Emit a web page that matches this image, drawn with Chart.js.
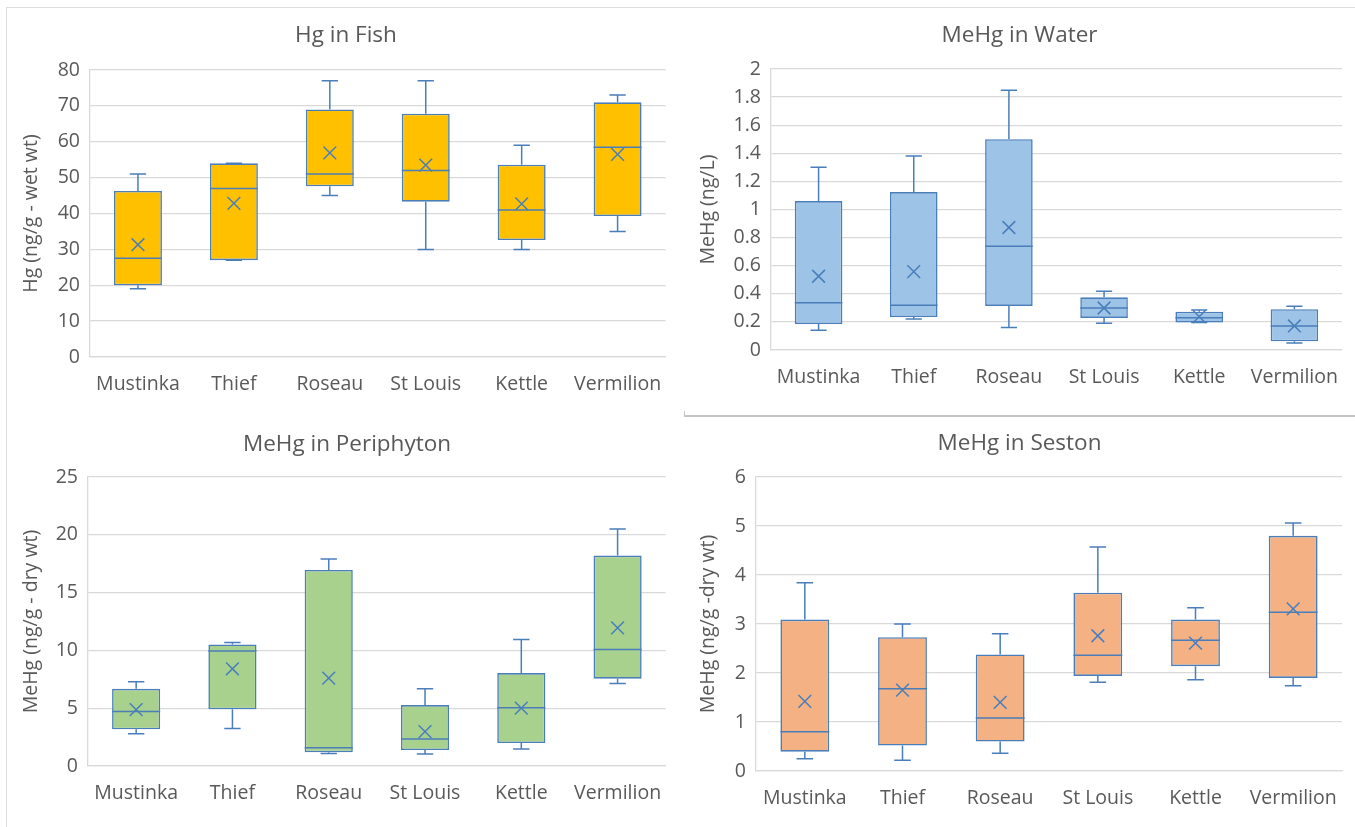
<!DOCTYPE html>
<html>
<head>
<meta charset="utf-8">
<script src="https://cdn.jsdelivr.net/npm/chart.js@4.4.1/dist/chart.umd.min.js"></script>
<style>
  html, body { margin: 0; padding: 0; background: #ffffff; }
  body { width: 1355px; height: 827px; position: relative; overflow: hidden; }
  canvas { position: absolute; }
  .rule { position: absolute; }
</style>
</head>
<body>
<div class="rule" style="left:6px;top:7px;width:1349px;height:1px;background:#dcdcdc"></div>
<div class="rule" style="left:6px;top:7px;width:1px;height:820px;background:#dcdcdc"></div>
<div class="rule" style="left:684px;top:415px;width:671px;height:2px;background:#c4c4c4"></div>
<div class="rule" style="left:684px;top:411px;width:1px;height:5px;background:#c4c4c4"></div>

<canvas id="fish" width="672" height="403" style="left:6px;top:7px"></canvas>
<canvas id="water" width="671" height="406" style="left:684px;top:7px"></canvas>
<canvas id="peri" width="672" height="414" style="left:6px;top:413px"></canvas>
<canvas id="seston" width="671" height="409" style="left:684px;top:418px"></canvas>

<script>
// Sampling sites
const sites = ['Mustinka', 'Thief', 'Roseau', 'St Louis', 'Kettle', 'Vermilion'];

// Hg in fish (ng/g wet wt)
const fishMin    = [19, 27, 45, 30, 30, 35];
const fishQ1     = [20, 27, 47.6, 43.3, 32.6, 39.3];
const fishMedian = [27.5, 47, 51, 52, 41, 58.5];
const fishQ3     = [46.3, 54, 69, 67.8, 53.6, 71];
const fishMax    = [51, 54, 77, 77, 59, 73];
const fishMean   = [31.3, 42.8, 56.9, 53.5, 42.7, 56.5];

// MeHg in water (ng/L)
const waterMin    = [0.14, 0.22, 0.16, 0.19, 0.195, 0.05];
const waterQ1     = [0.185, 0.235, 0.314, 0.228, 0.195, 0.062];
const waterMedian = [0.337, 0.318, 0.739, 0.299, 0.23, 0.171];
const waterQ3     = [1.06, 1.124, 1.5, 0.375, 0.273, 0.29];
const waterMax    = [1.30, 1.38, 1.848, 0.418, 0.285, 0.311];
const waterMean   = [0.525, 0.558, 0.872, 0.299, 0.237, 0.171];

// MeHg in periphyton (ng/g dry wt)
const periMin    = [2.8, 3.25, 1.09, 1.04, 1.47, 7.14];
const periQ1     = [3.17, 4.9, 1.18, 1.38, 1.99, 7.55];
const periMedian = [4.72, 9.94, 1.58, 2.33, 5.04, 10.08];
const periQ3     = [6.68, 10.51, 16.96, 5.27, 8.04, 18.2];
const periMax    = [7.29, 10.69, 17.9, 6.68, 10.94, 20.5];
const periMean   = [4.87, 8.41, 7.6, 2.97, 5.01, 11.95];

// MeHg in seston (ng/g dry wt)
const sestonMin    = [0.25, 0.22, 0.36, 1.81, 1.86, 1.74];
const sestonQ1     = [0.395, 0.52, 0.6, 1.94, 2.14, 1.9];
const sestonMedian = [0.8, 1.68, 1.08, 2.36, 2.67, 3.24];
const sestonQ3     = [3.09, 2.73, 2.38, 3.64, 3.09, 4.8];
const sestonMax    = [3.84, 3.0, 2.8, 4.57, 3.33, 5.06];
const sestonMean   = [1.42, 1.65, 1.40, 2.76, 2.61, 3.31];

const LINE = '#4a7ebb';
const TEXT = '#595959';
const GRID = '#d9d9d9';
const FONT = '"Open Sans", "DejaVu Sans", sans-serif';
const TITLE_SIZE = 22.5;
const LABEL_SIZE = 19.5;

// Whiskers, caps and median line for each box, drawn right after the boxes
const boxWhiskers = {
  id: 'boxWhiskers',
  afterDatasetDraw(chart, args, opts) {
    if (args.index !== 0 || !opts.median) return;
    const ctx = chart.ctx;
    const y = chart.scales.y;
    ctx.save();
    ctx.strokeStyle = LINE;
    ctx.lineWidth = 1.5;
    args.meta.data.forEach((bar, i) => {
      const { x, width } = bar.getProps(['x', 'width'], true);
      const half = width / 2;
      const cap = width * 0.17;
      const yMin = y.getPixelForValue(opts.min[i]);
      const yMax = y.getPixelForValue(opts.max[i]);
      const yQ1 = y.getPixelForValue(opts.q1[i]);
      const yQ3 = y.getPixelForValue(opts.q3[i]);
      const yMed = y.getPixelForValue(opts.median[i]);
      ctx.beginPath();
      // upper whisker
      ctx.moveTo(x, yQ3); ctx.lineTo(x, yMax);
      ctx.moveTo(x - cap, yMax); ctx.lineTo(x + cap, yMax);
      // lower whisker
      ctx.moveTo(x, yQ1); ctx.lineTo(x, yMin);
      ctx.moveTo(x - cap, yMin); ctx.lineTo(x + cap, yMin);
      // median
      ctx.moveTo(x - half, yMed); ctx.lineTo(x + half, yMed);
      ctx.stroke();
    });
    ctx.restore();
  }
};

function boxChart(id, cfg) {
  const el = document.getElementById(id);
  const W = el.width, H = el.height;
  const lh = TITLE_SIZE * 1.2;
  return new Chart(el, {
    type: 'bar',
    data: {
      labels: sites,
      datasets: [
        {
          data: cfg.q1.map((v, i) => [v, cfg.q3[i]]),
          backgroundColor: cfg.fill,
          borderColor: LINE,
          borderWidth: 1.6,
          borderSkipped: false,
          barPercentage: 0.5,
          categoryPercentage: 1,
          order: 1
        },
        {
          type: 'line',
          data: cfg.mean,
          showLine: false,
          pointStyle: 'crossRot',
          pointRadius: 9,
          pointBorderWidth: 1.5,
          pointBorderColor: LINE,
          borderColor: LINE,
          backgroundColor: LINE,
          order: 0
        }
      ]
    },
    options: {
      responsive: false,
      animation: false,
      devicePixelRatio: 1,
      events: [],
      layout: {
        padding: { left: cfg.padLeft, right: W - cfg.plotRight, top: 0, bottom: 0 }
      },
      plugins: {
        legend: { display: false },
        tooltip: { enabled: false },
        title: {
          display: true,
          text: cfg.title,
          color: TEXT,
          font: { family: FONT, size: TITLE_SIZE, weight: 'normal', lineHeight: 1.2 },
          padding: { top: cfg.titleCenter - lh / 2, bottom: cfg.plotTop - cfg.titleCenter - lh / 2 }
        },
        boxWhiskers: { min: cfg.min, q1: cfg.q1, median: cfg.median, q3: cfg.q3, max: cfg.max }
      },
      scales: {
        x: {
          grid: { display: false, drawTicks: false },
          border: { display: true, color: GRID, width: 1.3 },
          ticks: {
            color: TEXT,
            font: { family: FONT, size: LABEL_SIZE },
            padding: 16,
            autoSkip: false,
            maxRotation: 0
          },
          afterFit(scale) { scale.height = H - cfg.plotBottom; }
        },
        y: {
          min: 0,
          max: cfg.yMax,
          grid: { color: GRID, lineWidth: 1.3, drawTicks: false },
          border: { display: true, color: GRID, width: 1.3 },
          ticks: {
            stepSize: cfg.step,
            color: TEXT,
            font: { family: FONT, size: LABEL_SIZE },
            padding: 10,
            callback: (v) => String(Math.round(v * 10) / 10)
          },
          title: {
            display: true,
            text: cfg.yTitle,
            color: TEXT,
            font: { family: FONT, size: LABEL_SIZE, lineHeight: 1.2 },
            padding: 0
          },
          afterFit(scale) { scale.width = cfg.plotLeft - cfg.padLeft; }
        }
      }
    },
    plugins: [boxWhiskers]
  });
}

boxChart('fish', {
  title: 'Hg in Fish', yTitle: 'Hg (ng/g - wet wt)', fill: '#ffc000',
  yMax: 80, step: 10,
  min: fishMin, q1: fishQ1, median: fishMedian, q3: fishQ3, max: fishMax, mean: fishMean,
  padLeft: 14, plotLeft: 84, plotRight: 666, plotTop: 63, plotBottom: 350, titleCenter: 29
});

boxChart('water', {
  title: 'MeHg in Water', yTitle: 'MeHg (ng/L)', fill: '#9dc3e6',
  yMax: 2, step: 0.2,
  min: waterMin, q1: waterQ1, median: waterMedian, q3: waterQ3, max: waterMax, mean: waterMean,
  padLeft: 13, plotLeft: 87, plotRight: 658, plotTop: 62, plotBottom: 343, titleCenter: 29
});

boxChart('peri', {
  title: 'MeHg in Periphyton', yTitle: 'MeHg (ng/g - dry wt)', fill: '#a9d18e',
  yMax: 25, step: 5,
  min: periMin, q1: periQ1, median: periMedian, q3: periQ3, max: periMax, mean: periMean,
  padLeft: 14, plotLeft: 82, plotRight: 668, plotTop: 64, plotBottom: 353, titleCenter: 32
});

boxChart('seston', {
  title: 'MeHg in Seston', yTitle: 'MeHg (ng/g -dry wt)', fill: '#f4b183',
  yMax: 6, step: 1,
  min: sestonMin, q1: sestonQ1, median: sestonMedian, q3: sestonQ3, max: sestonMax, mean: sestonMean,
  padLeft: 13, plotLeft: 72, plotRight: 658, plotTop: 59, plotBottom: 353, titleCenter: 26
});
</script>
</body>
</html>
